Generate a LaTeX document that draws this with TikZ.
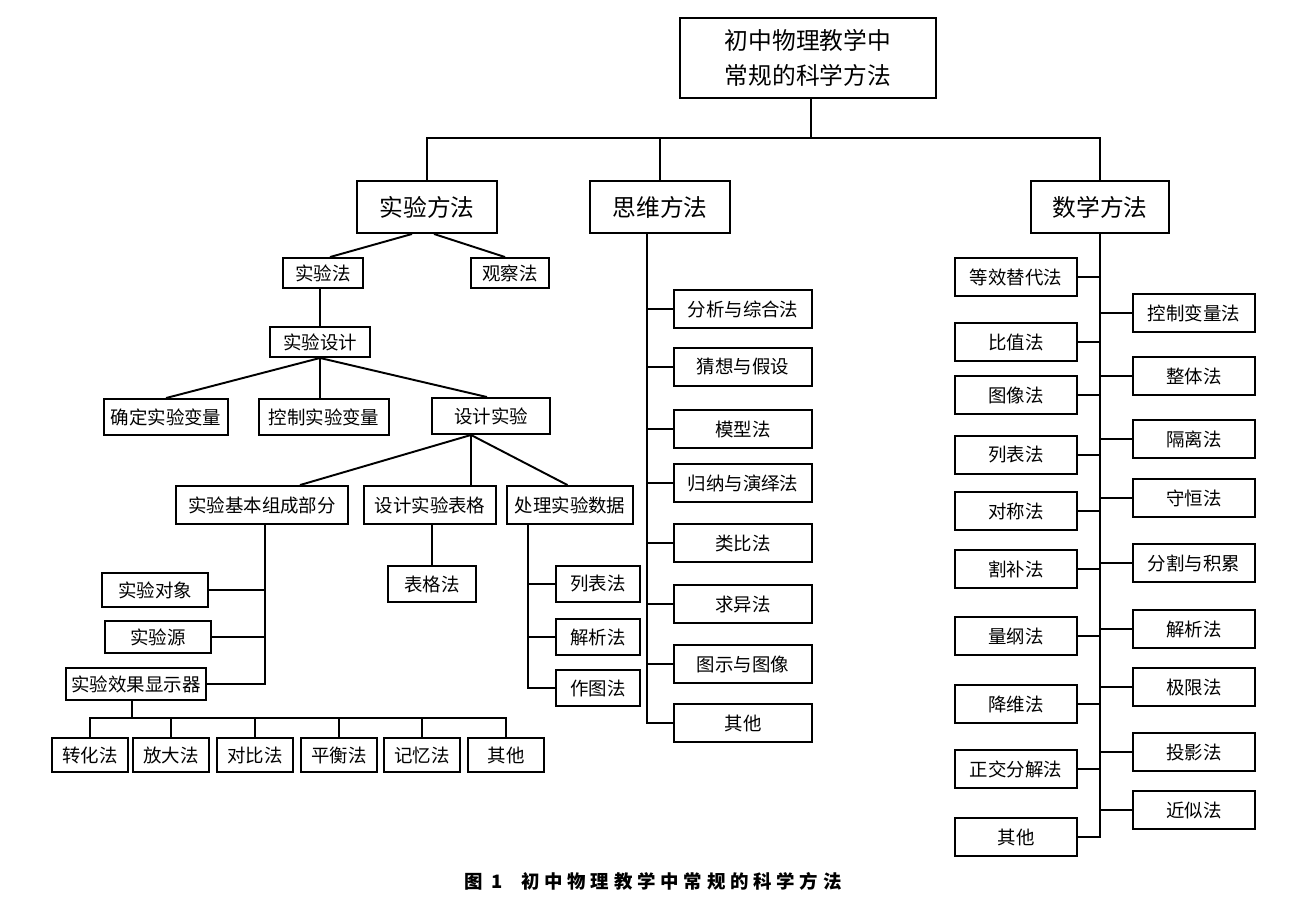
\documentclass[tikz,border=0pt]{standalone}
\usepackage{fontspec}
\setmainfont{Noto Sans CJK SC}
\newfontfamily\capfont[LetterSpace=26]{Noto Sans CJK SC}
\usepackage{tikz}
\usetikzlibrary{positioning}
\tikzset{
  box/.style={draw, line width=1.1pt, inner sep=0pt, align=center, font=\fontsize{10.5}{12}\selectfont},
  bigbox/.style={box, font=\fontsize{13.5}{19.8}\selectfont},
  wh/.style 2 args={minimum width=#1*0.02cm, minimum height=#2*0.02cm},
  link/.style={line width=1.1pt}
}

\begin{document}
\begin{tikzpicture}[x=0.02cm, y=-0.02cm]
\useasboundingbox (0,0) rectangle (1300,897);
% top levels
\node[bigbox, wh={256}{80}] (root) at (808,58) {初中物理教学中\\常规的科学方法};
\node[bigbox, wh={140}{52}] (expt) at (427,207) {实验方法};
\node[bigbox, wh={140}{52}] (think) at (660,207) {思维方法};
\node[bigbox, wh={138}{52}] (maths) at (1100,207) {数学方法};
\coordinate (bar) at (811,138);
\draw[link](root.south-|bar)--(bar);
\draw[link](expt.north)|-(bar)-|(maths.north);
\draw[link](think.north)--(think.north|-bar);

% experiment branch
\node[box, wh={80}{30}] (syf) at (323,273) {实验法};
\node[box, wh={78}{30}] (gcf) at (510,273) {观察法};
\node[box, wh={100}{30}] (sysj) at (320,342) {实验设计};
\node[box, wh={124}{36}] (qdbl) at (166,417) {确定实验变量};
\node[box, wh={130}{36}] (kzbl) at (324,417) {控制实验变量};
\node[box, wh={118}{36}] (sjsy) at (491,416) {设计实验};
\node[box, wh={172}{38}] (jbzc) at (262,505) {实验基本组成部分};
\node[box, wh={132}{38}] (sjbg) at (430,505) {设计实验表格};
\node[box, wh={126}{38}] (clsj) at (570,505) {处理实验数据};
\node[box, wh={88}{36}] (bgf) at (432,584) {表格法};
\node[box, wh={106}{34}] (sydx) at (155,590) {实验对象};
\node[box, wh={106}{32}] (syy) at (158,637) {实验源};
\node[box, wh={140}{32}] (xsq) at (136,684) {实验效果显示器};
\node[box, wh={84}{36}] (lbf) at (598,584) {列表法};
\node[box, wh={84}{36}] (jxf) at (598,637) {解析法};
\node[box, wh={84}{36}] (ztf) at (598,688) {作图法};
\node[box, wh={76}{34}] (zhf) at (90,755) {转化法};
\node[box, wh={76}{34}] (fdf) at (171,755) {放大法};
\node[box, wh={76}{34}] (dbf) at (255,755) {对比法};
\node[box, wh={76}{34}] (phf) at (339,755) {平衡法};
\node[box, wh={76}{34}] (jyf) at (422,755) {记忆法};
\node[box, wh={76}{34}] (qta) at (506,755) {其他};

\draw[link]([xshift=-0.3cm]expt.south)--([xshift=0.14cm]syf.north);
\draw[link]([xshift=0.14cm]expt.south)--([xshift=-0.1cm]gcf.north);
\draw[link](syf.south-|sysj.north)--(sysj.north);
\draw[link](sysj.south)--(qdbl.north);
\draw[link](sysj.south)--(kzbl.north-|sysj.south);
\draw[link](sysj.south)--([xshift=-0.08cm]sjsy.north);
\draw[link]([xshift=-0.4cm]sjsy.south)--([xshift=0.76cm]jbzc.north);
\draw[link]([xshift=-0.4cm]sjsy.south)--([xshift=0.82cm]sjbg.north);
\draw[link]([xshift=-0.4cm]sjsy.south)--([xshift=-0.05cm]clsj.north);
\draw[link](sjbg.south-|bgf.north)--(bgf.north);
\coordinate (jbs) at ([xshift=0.06cm]jbzc.south);
\draw[link](jbs)|-(xsq.east);
\draw[link](sydx.east)--(sydx.east-|jbs);
\draw[link](syy.east)--(syy.east-|jbs);
\coordinate (cls) at ([xshift=-0.84cm]clsj.south);
\draw[link](cls)|-(ztf.west);
\draw[link](lbf.west)--(lbf.west-|cls);
\draw[link](jxf.west)--(jxf.west-|cls);
\coordinate (xbar) at (132,718);
\draw[link](xsq.south-|xbar)--(xbar);
\draw[link](zhf.north)|-(xbar)-|(qta.north);
\foreach \n in {fdf,dbf,phf,jyf,qta}
  \draw[link](\n.north)--(\n.north|-xbar);

% thinking branch
\foreach \n/\t/\y in {fx/分析与综合法/309, cx/猜想与假设/367, mx/模型法/429, gn/归纳与演绎法/483, lb/类比法/543, qy/求异法/604, ts/图示与图像/664, qtb/其他/723}
  \node[box, wh={138}{38}] (\n) at (743,\y) {\t};
\coordinate (tks) at ([xshift=-0.26cm]think.south);
\draw[link](tks)|-(qtb.west);
\foreach \n in {fx,cx,mx,gn,lb,qy,ts}
  \draw[link](\n.west)--(\n.west-|tks);

% maths branch
\foreach \n/\t/\y in {dx/等效替代法/277, bz/比值法/342, tx/图像法/395, lbs/列表法/455, dc/对称法/511, gb/割补法/569, lg/量纲法/636, jw/降维法/704, zj/正交分解法/769, qtc/其他/837}
  \node[box, wh={122}{38}] (\n) at (1016,\y) {\t};
\foreach \n/\t/\y in {kz/控制变量法/313, zt/整体法/376, gl/隔离法/439, sh/守恒法/498, fg/分割与积累/563, jx/解析法/629, jx2/极限法/687, ty/投影法/752, js/近似法/810}
  \node[box, wh={122}{38}] (\n) at (1194,\y) {\t};
\draw[link](maths.south)|-(qtc.east);
\foreach \n in {dx,bz,tx,lbs,dc,gb,lg,jw,zj}
  \draw[link](\n.east)--(\n.east-|maths.south);
\foreach \n in {kz,zt,gl,sh,fg,jx,jx2,ty,js}
  \draw[link](\n.west)--(\n.west-|maths.south);

\node[font=\capfont\bfseries\fontsize{10.5}{12}\selectfont] (cap) at (653,881) {图 1\ \ 初中物理教学中常规的科学方法};
\end{tikzpicture}
\end{document}
